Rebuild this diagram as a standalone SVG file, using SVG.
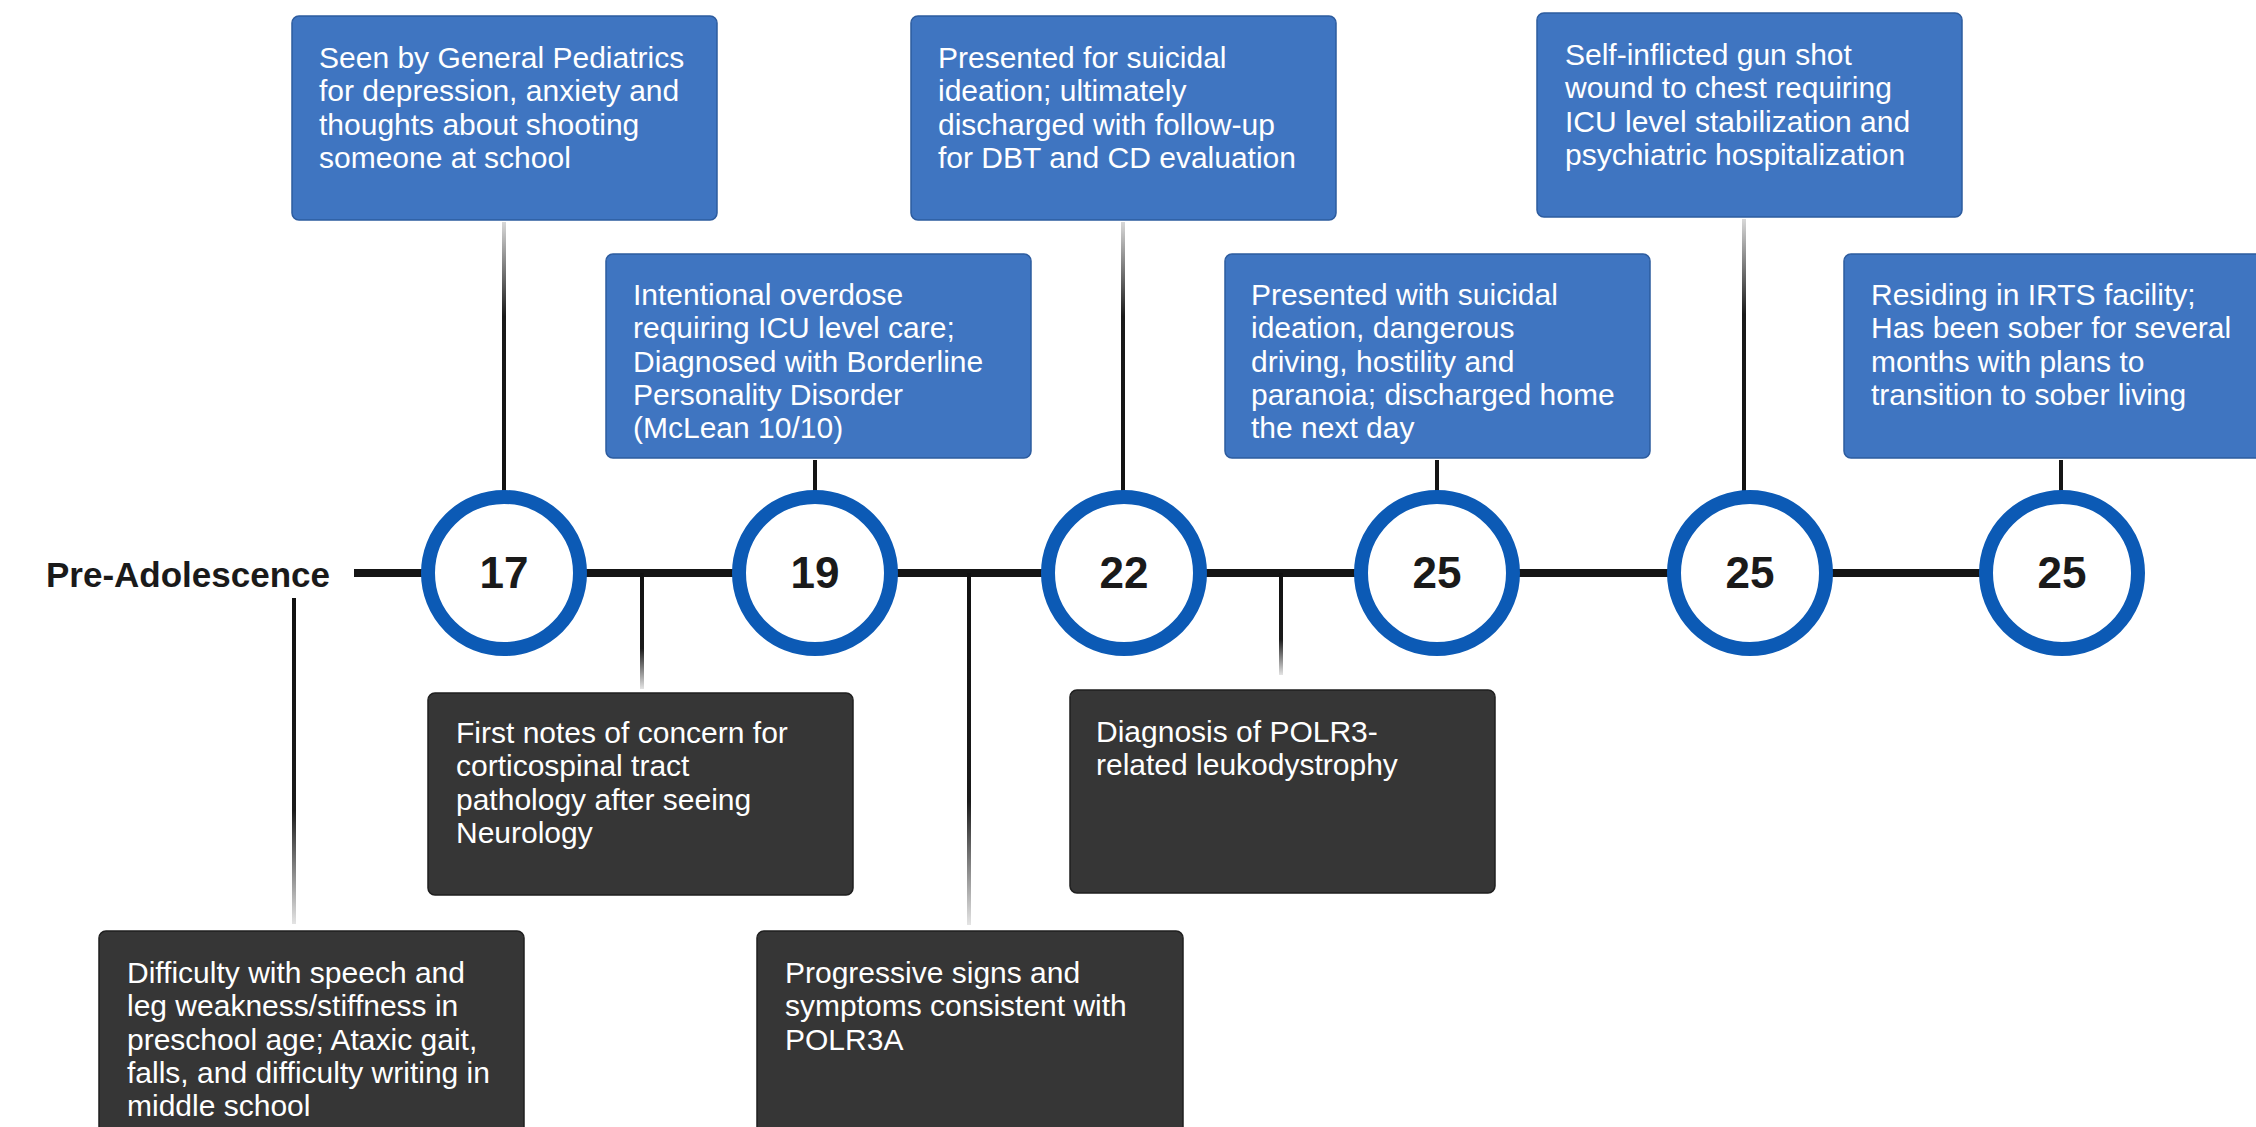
<svg xmlns="http://www.w3.org/2000/svg" width="2256" height="1127" viewBox="0 0 2256 1127">
<defs>
<linearGradient id="gUp" x1="0" y1="0" x2="0" y2="1">
<stop offset="0" stop-color="#d8d8d8"/>
<stop offset="0.35" stop-color="#1a1a1a"/>
<stop offset="1" stop-color="#111"/>
</linearGradient>
<linearGradient id="gDown" x1="0" y1="0" x2="0" y2="1">
<stop offset="0" stop-color="#111"/>
<stop offset="0.65" stop-color="#1a1a1a"/>
<stop offset="1" stop-color="#e4e4e4"/>
</linearGradient>
<style>
.blue{fill:#3f75c1;stroke:#2d5c9f;stroke-width:1.5}
.dark{fill:#363636;stroke:#1f1f1f;stroke-width:1.5}
.t{font-family:"Liberation Sans",Arial,sans-serif;font-size:30px;fill:#ffffff}
.ring{fill:#ffffff;stroke:#0c5ab5;stroke-width:14}
.num{font-family:"Liberation Sans",Arial,sans-serif;font-size:44px;font-weight:bold;fill:#1a1a1a;text-anchor:middle}
.lbl{font-family:"Liberation Sans",Arial,sans-serif;font-size:35px;font-weight:bold;fill:#1a1a1a}
</style>
</defs>
<rect width="2256" height="1127" fill="#ffffff"/>

<g id="connectors">
<line x1="354" y1="573" x2="2062" y2="573" stroke="#151515" stroke-width="8"/>
<rect x="502" y="222" width="4" height="270" fill="url(#gUp)"/>
<rect x="813" y="460" width="4" height="32" fill="#151515"/>
<rect x="1121" y="222" width="4" height="270" fill="url(#gUp)"/>
<rect x="1435" y="460" width="4" height="32" fill="#151515"/>
<rect x="1742" y="219" width="4" height="273" fill="url(#gUp)"/>
<rect x="2059" y="460" width="4" height="32" fill="#151515"/>
<rect x="292" y="598" width="4" height="326" fill="url(#gDown)"/>
<rect x="640" y="573" width="4" height="116" fill="url(#gDown)"/>
<rect x="967" y="573" width="4" height="352" fill="url(#gDown)"/>
<rect x="1279" y="573" width="4" height="102" fill="url(#gDown)"/>
</g>

<g id="label-pre">
<text class="lbl" x="46" y="587">Pre-Adolescence</text>
</g>

<g id="m17"><circle class="ring" cx="504" cy="573" r="76"/><text class="num" x="504" y="588">17</text></g>
<g id="m19"><circle class="ring" cx="815" cy="573" r="76"/><text class="num" x="815" y="588">19</text></g>
<g id="m22"><circle class="ring" cx="1124" cy="573" r="76"/><text class="num" x="1124" y="588">22</text></g>
<g id="m25a"><circle class="ring" cx="1437" cy="573" r="76"/><text class="num" x="1437" y="588">25</text></g>
<g id="m25b"><circle class="ring" cx="1750" cy="573" r="76"/><text class="num" x="1750" y="588">25</text></g>
<g id="m25c"><circle class="ring" cx="2062" cy="573" r="76"/><text class="num" x="2062" y="588">25</text></g>

<g id="e1">
<rect class="blue" x="292" y="16" width="425" height="204" rx="7"/>
<text class="t" x="319" y="68"><tspan x="319">Seen by General Pediatrics</tspan><tspan x="319" dy="33.3">for depression, anxiety and</tspan><tspan x="319" dy="33.3">thoughts about shooting</tspan><tspan x="319" dy="33.3">someone at school</tspan></text>
</g>
<g id="e2">
<rect class="blue" x="606" y="254" width="425" height="204" rx="7"/>
<text class="t" x="633" y="305"><tspan x="633">Intentional overdose</tspan><tspan x="633" dy="33.3">requiring ICU level care;</tspan><tspan x="633" dy="33.3">Diagnosed with Borderline</tspan><tspan x="633" dy="33.3">Personality Disorder</tspan><tspan x="633" dy="33.3">(McLean 10/10)</tspan></text>
</g>
<g id="e3">
<rect class="blue" x="911" y="16" width="425" height="204" rx="7"/>
<text class="t" x="938" y="68"><tspan x="938">Presented for suicidal</tspan><tspan x="938" dy="33.3">ideation; ultimately</tspan><tspan x="938" dy="33.3">discharged with follow-up</tspan><tspan x="938" dy="33.3">for DBT and CD evaluation</tspan></text>
</g>
<g id="e4">
<rect class="blue" x="1225" y="254" width="425" height="204" rx="7"/>
<text class="t" x="1251" y="305"><tspan x="1251">Presented with suicidal</tspan><tspan x="1251" dy="33.3">ideation, dangerous</tspan><tspan x="1251" dy="33.3">driving, hostility and</tspan><tspan x="1251" dy="33.3">paranoia; discharged home</tspan><tspan x="1251" dy="33.3">the next day</tspan></text>
</g>
<g id="e5">
<rect class="blue" x="1537" y="13" width="425" height="204" rx="7"/>
<text class="t" x="1565" y="65"><tspan x="1565">Self-inflicted gun shot</tspan><tspan x="1565" dy="33.3">wound to chest requiring</tspan><tspan x="1565" dy="33.3">ICU level stabilization and</tspan><tspan x="1565" dy="33.3">psychiatric hospitalization</tspan></text>
</g>
<g id="e6">
<rect class="blue" x="1844" y="254" width="425" height="204" rx="7"/>
<text class="t" x="1871" y="305"><tspan x="1871">Residing in IRTS facility;</tspan><tspan x="1871" dy="33.3">Has been sober for several</tspan><tspan x="1871" dy="33.3">months with plans to</tspan><tspan x="1871" dy="33.3">transition to sober living</tspan></text>
</g>

<g id="d1">
<rect class="dark" x="428" y="693" width="425" height="202" rx="7"/>
<text class="t" x="456" y="743"><tspan x="456">First notes of concern for</tspan><tspan x="456" dy="33.3">corticospinal tract</tspan><tspan x="456" dy="33.3">pathology after seeing</tspan><tspan x="456" dy="33.3">Neurology</tspan></text>
</g>
<g id="d2">
<rect class="dark" x="1070" y="690" width="425" height="203" rx="7"/>
<text class="t" x="1096" y="742"><tspan x="1096">Diagnosis of POLR3-</tspan><tspan x="1096" dy="33.3">related leukodystrophy</tspan></text>
</g>
<g id="d3">
<rect class="dark" x="99" y="931" width="425" height="210" rx="7"/>
<text class="t" x="127" y="983"><tspan x="127">Difficulty with speech and</tspan><tspan x="127" dy="33.3">leg weakness/stiffness in</tspan><tspan x="127" dy="33.3">preschool age; Ataxic gait,</tspan><tspan x="127" dy="33.3">falls, and difficulty writing in</tspan><tspan x="127" dy="33.3">middle school</tspan></text>
</g>
<g id="d4">
<rect class="dark" x="757" y="931" width="426" height="210" rx="7"/>
<text class="t" x="785" y="983"><tspan x="785">Progressive signs and</tspan><tspan x="785" dy="33.3">symptoms consistent with</tspan><tspan x="785" dy="33.3">POLR3A</tspan></text>
</g>
</svg>
